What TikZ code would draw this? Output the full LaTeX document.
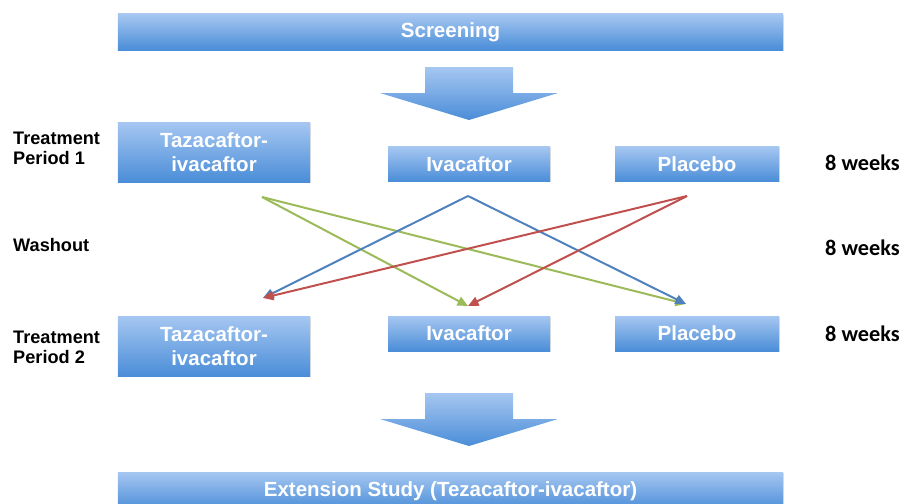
\documentclass[tikz,border=0pt]{standalone}
\usepackage{fontspec}
\setmainfont{Liberation Sans}
\newfontfamily\weeksfont{Carlito}
\usetikzlibrary{arrows.meta,shadows}

\definecolor{boxtop}{RGB}{166,199,241}
\definecolor{boxbot}{RGB}{74,141,216}
\definecolor{armgreen}{RGB}{155,187,89}
\definecolor{armblue}{RGB}{79,129,189}
\definecolor{armred}{RGB}{192,80,77}

\tikzset{
  armbox/.style={rectangle, top color=boxtop, bottom color=boxbot, text=white,
    inner sep=0pt, align=center, font=\bfseries\fontsize{17.5}{21}\selectfont,
    drop shadow={opacity=0.25, shadow xshift=0.6pt, shadow yshift=-0.8pt}},
  sidelabel/.style={anchor=west, align=left, inner sep=0pt, font=\bfseries\fontsize{15.5}{17}\selectfont},
  weeks/.style={anchor=west, inner sep=0pt, font=\weeksfont\bfseries\fontsize{19}{21}\selectfont},
  bigarrow/.style={top color=boxtop, bottom color=boxbot, draw=none},
  swap/.style={line width=1.7pt, -{Triangle[length=9pt,width=8pt]}}
}

\begin{document}
\begin{tikzpicture}[x=0.03cm, y=-0.03cm]
    \useasboundingbox (0,0) rectangle (903,503);

    % boxes
    \node[armbox, minimum width=19.95cm, minimum height=1.08cm] (scr) at (450.5,32) {Screening};
    \node[armbox, minimum width=5.76cm, minimum height=1.8cm] (taz1) at (214,152) {Tazacaftor-\\ivacaftor};
    \node[armbox, minimum width=4.86cm, minimum height=1.05cm] (iva1) at (469,164) {Ivacaftor};
    \node[armbox, minimum width=4.92cm, minimum height=1.05cm] (pla1) at (697,164) {Placebo};
    \node[armbox, minimum width=5.76cm, minimum height=1.8cm] (taz2) at (214,346) {Tazacaftor-\\ivacaftor};
    \node[armbox, minimum width=4.86cm, minimum height=1.05cm] (iva2) at (469,333.5) {Ivacaftor};
    \node[armbox, minimum width=4.92cm, minimum height=1.05cm] (pla2) at (697,333.5) {Placebo};
    \node[armbox, minimum width=19.95cm, minimum height=1.14cm] (ext) at (450.5,491) {Extension Study (Tezacaftor-ivacaftor)};

    % labels
    \node[sidelabel] (tp1) at (13,148) {Treatment\\Period 1};
    \node[sidelabel] (wash) at (13,245) {Washout};
    \node[sidelabel] (tp2) at (13,347) {Treatment\\Period 2};
    \node[weeks] (wk1) at (825,163) {8 weeks};
    \node[weeks] (wk2) at (825,248) {8 weeks};
    \node[weeks] (wk3) at (825,334) {8 weeks};

    % big arrows
    \shade[bigarrow] (425,67) -- (513,67) -- (513,93) -- (558,93) -- (469,120) -- (380,93) -- (425,93) -- cycle;
    \shade[bigarrow] (425,393) -- (513,393) -- (513,419) -- (558,419) -- (469,446) -- (380,419) -- (425,419) -- cycle;

    % crossover
    \coordinate (tazOut) at (262,197);
    \coordinate (ivaOut) at (468,196);
    \coordinate (plaOut) at (687,196);
    \coordinate (tazIn) at (263,298);
    \coordinate (ivaIn) at (468,306);
    \coordinate (plaIn) at (686,304);

    \draw[swap, armgreen] (tazOut) -- (ivaIn);
    \draw[swap, armgreen] (tazOut) -- (plaIn);
    \draw[swap, armblue] (ivaOut) -- (tazIn);
    \draw[swap, armblue] (ivaOut) -- (plaIn);
    \draw[swap, armred] (plaOut) -- (tazIn);
    \draw[swap, armred] (plaOut) -- (ivaIn);

\end{tikzpicture}
\end{document}
